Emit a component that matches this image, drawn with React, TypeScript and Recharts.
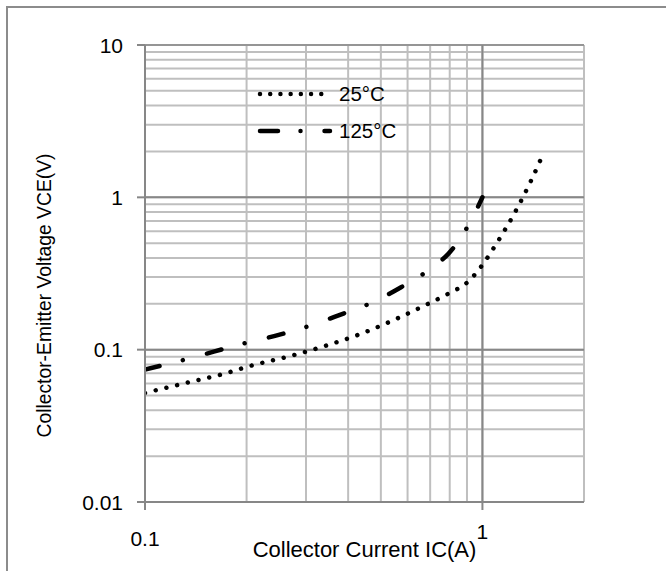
import React from "react";
import {
  LineChart,
  Line,
  XAxis,
  YAxis,
  CartesianGrid,
  ReferenceLine,
  Legend,
  Label,
} from "recharts";

const FONT = "'Liberation Sans', Arial, sans-serif";

// collector current (A) grid / ticks
const X_TICKS = [0.1, 0.2, 0.3, 0.4, 0.5, 0.6, 0.7, 0.8, 0.9, 1, 2];
const X_MAJOR = [0.1, 1];
// collector-emitter voltage (V) grid / ticks
const Y_TICKS = [
  0.01, 0.02, 0.03, 0.04, 0.05, 0.06, 0.07, 0.08, 0.09,
  0.1, 0.2, 0.3, 0.4, 0.5, 0.6, 0.7, 0.8, 0.9,
  1, 2, 3, 4, 5, 6, 7, 8, 9, 10,
];
const Y_MAJOR = [0.01, 0.1, 1, 10];

// 25°C curve
const IC_25 = [0.1, 0.137, 0.173, 0.2, 0.277, 0.349, 0.44, 0.548, 0.684, 0.789, 0.909, 1.0, 1.1, 1.245, 1.39, 1.49];
const VCE_25 = [0.052, 0.0616, 0.0698, 0.077, 0.0923, 0.1074, 0.128, 0.157, 0.198, 0.232, 0.281, 0.36, 0.496, 0.788, 1.27, 1.78];

// 125°C curve
const IC_125 = [0.1, 0.131, 0.2, 0.249, 0.309, 0.38, 0.469, 0.574, 0.69, 0.817, 0.922, 1.0];
const VCE_125 = [0.074, 0.086, 0.111, 0.125, 0.144, 0.17, 0.203, 0.257, 0.331, 0.46, 0.695, 1.0];

const data25 = IC_25.map((ic, i) => ({ ic, vce: VCE_25[i] }));
const data125 = IC_125.map((ic, i) => ({ ic, vce: VCE_125[i] }));

const SERIES = [
  { name: "25°C", data: data25, dash: "0.01 11", legendDash: "0.01 10.2", legendLen: 62 },
  { name: "125°C", data: data125, dash: "15 24 0.01 25", legendDash: "18 22.5 0.01 24", legendLen: 70 },
];

const GRID = "#bfbfbf";
const MAJOR = "#878787";

const XTick = (props: any) => {
  const { x, y, payload } = props;
  const v = payload.value;
  if (!X_MAJOR.includes(v)) return null;
  return (
    <g>
      <line x1={x} y1={y} x2={x} y2={y + 8} stroke={MAJOR} strokeWidth={2} />
      <text
        x={x}
        y={v === 1 ? y + 37 : y + 44}
        textAnchor="middle"
        fontSize={21}
        fontFamily={FONT}
        fill="#000"
      >
        {String(v)}
      </text>
    </g>
  );
};

const YTick = (props: any) => {
  const { x, y, payload } = props;
  const v = payload.value;
  if (!Y_MAJOR.includes(v)) return null;
  return (
    <g>
      <line x1={x - 8} y1={y} x2={x} y2={y} stroke={MAJOR} strokeWidth={2} />
      <text x={x - 22} y={y + 7.5} textAnchor="end" fontSize={21} fontFamily={FONT} fill="#000">
        {String(v)}
      </text>
    </g>
  );
};

const renderLegend = () => (
  <div style={{ fontFamily: FONT, fontSize: 20.5, color: "#000" }}>
    {SERIES.map((s) => (
      <div key={s.name} style={{ display: "flex", alignItems: "center", height: 37 }}>
        <svg width={85} height={20}>
          <line
            x1={5}
            y1={10}
            x2={5 + s.legendLen}
            y2={10}
            stroke="#000"
            strokeWidth={4.5}
            strokeLinecap="round"
            strokeDasharray={s.legendDash}
          />
        </svg>
        <span style={{ marginLeft: -1 }}>{s.name}</span>
      </div>
    ))}
  </div>
);

export default function App() {
  return (
    <div style={{ position: "absolute", left: 0, top: 0, width: 666, height: 571, background: "#fff", overflow: "hidden" }}>
      {/* outer chart frame */}
      <div
        style={{
          position: "absolute",
          left: 6,
          top: 6,
          width: 700,
          height: 600,
          borderLeft: "2px solid #8c8c8c",
          borderTop: "2px solid #8c8c8c",
        }}
      />
      <div style={{ position: "absolute", left: 0, top: 0 }}>
        <LineChart
          width={666}
          height={571}
          margin={{ top: 45, right: 82, bottom: 0, left: 0 }}
          style={{ fontFamily: FONT }}
        >
          <CartesianGrid stroke={GRID} strokeWidth={2} />
          <XAxis
            dataKey="ic"
            type="number"
            scale="log"
            domain={[0.1, 2]}
            ticks={X_TICKS}
            interval={0}
            allowDataOverflow
            height={69}
            tickSize={0}
            tickMargin={0}
            tickLine={false}
            axisLine={{ stroke: MAJOR, strokeWidth: 2 }}
            tick={<XTick />}
          >
            <Label
              content={(p: any) => {
                const vb = p.viewBox;
                return (
                  <text
                    x={vb.x + vb.width / 2}
                    y={vb.y + 55}
                    textAnchor="middle"
                    fontSize={22}
                    fontFamily={FONT}
                    fill="#000"
                  >
                    Collector Current IC(A)
                  </text>
                );
              }}
            />
          </XAxis>
          <YAxis
            dataKey="vce"
            type="number"
            scale="log"
            domain={[0.01, 10]}
            ticks={Y_TICKS}
            interval={0}
            allowDataOverflow
            width={145}
            tickSize={0}
            tickMargin={0}
            tickLine={false}
            axisLine={{ stroke: MAJOR, strokeWidth: 2 }}
            tick={<YTick />}
          >
            <Label
              content={(p: any) => {
                const vb = p.viewBox;
                const cx = vb.x + 44;
                const cy = vb.y + vb.height / 2 + 22;
                return (
                  <text
                    x={cx}
                    y={cy}
                    transform={`rotate(-90, ${cx}, ${cy})`}
                    textAnchor="middle"
                    dominantBaseline="central"
                    fontSize={19.3}
                    fontFamily={FONT}
                    fill="#000"
                  >
                    Collector-Emitter Voltage VCE(V)
                  </text>
                );
              }}
            />
          </YAxis>
          <ReferenceLine x={1} stroke={MAJOR} strokeWidth={2} />
          <ReferenceLine y={1} stroke={MAJOR} strokeWidth={2} />
          <ReferenceLine y={0.1} stroke={MAJOR} strokeWidth={2} />
          <ReferenceLine y={10} stroke={MAJOR} strokeWidth={1.5} />
          {SERIES.map((s) => (
            <Line
              key={s.name}
              name={s.name}
              data={s.data}
              dataKey="vce"
              type="monotone"
              stroke="#000"
              strokeWidth={4.5}
              strokeLinecap="round"
              strokeDasharray={s.dash}
              dot={false}
              activeDot={false}
              isAnimationActive={false}
            />
          ))}
          <Legend
            layout="vertical"
            align="center"
            verticalAlign="middle"
            content={renderLegend}
            wrapperStyle={{ left: 255, top: 75, width: 200, height: 80 }}
          />
        </LineChart>
      </div>
    </div>
  );
}
